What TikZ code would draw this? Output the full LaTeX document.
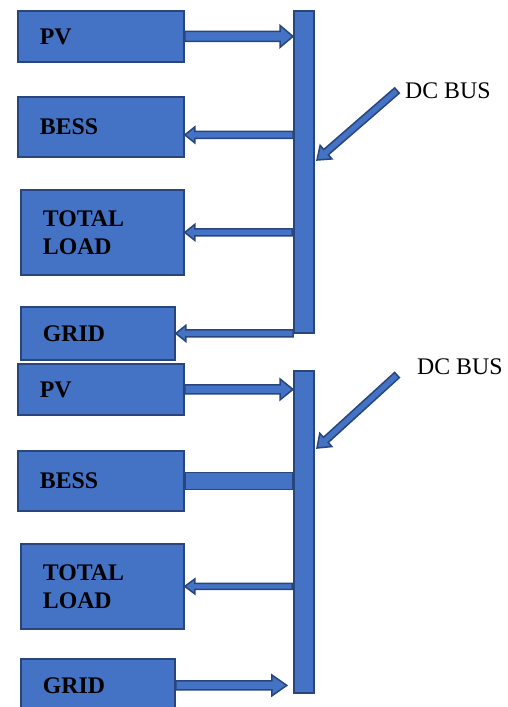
\documentclass[tikz,border=0pt]{standalone}
\usepackage{fontspec}
\setmainfont{Liberation Serif}
\usepackage{tikz}
\usetikzlibrary{calc, positioning}
\definecolor{BoxBlue}{RGB}{68, 114, 196}
\definecolor{BoxEdge}{RGB}{40, 70, 125}
\tikzset{every node/.style={font=\fontsize{23.8}{28}\selectfont}, every path/.style={line join=miter},
    shaft/.store in=\arrshaft, head/.store in=\arrhead, tiplen/.store in=\arrtip,
    shaft=3.5pt, head=8pt, tiplen=10pt,
    block/.style={draw=BoxEdge, fill=BoxBlue, line width=1.8pt, anchor=north west, inner xsep=22pt, inner ysep=0pt, align=left, font=\fontsize{23.8}{28}\selectfont\bfseries},
    busbar/.style={draw=BoxEdge, fill=BoxBlue, line width=1.8pt, anchor=north west, inner sep=0pt, minimum width=20pt, minimum height=322pt},
    connbar/.style={draw=BoxEdge, fill=BoxBlue, line width=1.4pt},
    blockarrow/.style={draw=BoxEdge, fill=BoxBlue, line width=1.5pt, to path={
        -- ($(\tikztostart)!\arrshaft!90:(\tikztotarget)$)
        -- ($(\tikztotarget)!\arrtip!(\tikztostart)!\arrshaft!90:(\tikztotarget)$)
        -- ($(\tikztotarget)!\arrtip!(\tikztostart)!\arrhead!90:(\tikztotarget)$)
        -- (\tikztotarget)
        -- ($(\tikztotarget)!\arrtip!(\tikztostart)!\arrhead!-90:(\tikztotarget)$)
        -- ($(\tikztotarget)!\arrtip!(\tikztostart)!\arrshaft!-90:(\tikztotarget)$)
        -- ($(\tikztostart)!\arrshaft!-90:(\tikztotarget)$)
        -- cycle}}}

\begin{document}
\begin{tikzpicture}[x=1pt, y=-1pt]
    \useasboundingbox (0,0) rectangle (507,707);

    % upper case
    \node [block, text width=122pt, minimum height=51pt] (pv1) at (17,10) {PV};
    \node [block, text width=122pt, minimum height=60pt] (bess1) at (17,96) {BESS};
    \node [block, text width=119pt, minimum height=85pt] (load1) at (20,189) {TOTAL\\LOAD};
    \node [block, text width=110pt, minimum height=53pt] (grid1) at (20,306) {GRID};
    \node [busbar] (bus1) at (293,10) {};
    \node [anchor=west, inner sep=0pt] (dcbus1) at (405,90.5) {DC BUS};

    \coordinate (pvin1) at (bus1.west |- pv1.east);
    \coordinate (bessin1) at ([yshift=-8pt]bess1.east);
    \coordinate (bessout1) at (bus1.west |- bessin1);
    \coordinate (loadout1) at ([xshift=-1pt]bus1.west |- load1.east);
    \coordinate (gridout1) at (bus1.west |- grid1.east);
    \coordinate (dctail1) at ([xshift=-8pt]dcbus1.west);
    \coordinate (dctip1) at (317,160);

    \draw [blockarrow, shaft=5pt, head=11pt, tiplen=13pt] (pv1.east) to (pvin1);
    \draw [blockarrow] (bessout1) to (bessin1);
    \draw [blockarrow] (loadout1) to (load1.east);
    \draw [blockarrow] (gridout1) to (grid1.east);
    \draw [blockarrow, head=9pt, tiplen=12pt] (dctail1) to (dctip1);

    % lower case
    \node [block, text width=122pt, minimum height=51pt] (pv2) at (17,363) {PV};
    \node [block, text width=122pt, minimum height=60pt] (bess2) at (17,450) {BESS};
    \node [block, text width=119pt, minimum height=85pt] (load2) at (20,543) {TOTAL\\LOAD};
    \node [block, text width=110pt, minimum height=53pt] (grid2) at (20,658) {GRID};
    \node [busbar] (bus2) at (293,370) {};
    \node [anchor=west, inner sep=0pt] (dcbus2) at (417,367) {DC BUS};

    \coordinate (pvin2) at (bus2.west |- pv2.east);
    \coordinate (loadout2) at ([xshift=-1pt]bus2.west |- load2.east);
    \coordinate (gridin2) at ([xshift=111pt]grid2.east);
    \coordinate (dctail2) at ([shift={(-20pt,-8pt)}]dcbus2.west);
    \coordinate (dctip2) at (317,448);

    \draw [blockarrow, shaft=4.5pt, head=10.5pt, tiplen=13pt] (pv2.east) to (pvin2);
    \draw [connbar] ([yshift=8.5pt]bess2.east) rectangle ([yshift=-8.5pt]bus2.west |- bess2.east);
    \draw [blockarrow, shaft=3pt, head=7.5pt] (loadout2) to (load2.east);
    \draw [blockarrow, shaft=4.5pt, head=10.5pt, tiplen=15pt] (grid2.east) to (gridin2);
    \draw [blockarrow, head=9pt, tiplen=12pt] (dctail2) to (dctip2);
\end{tikzpicture}
\end{document}
